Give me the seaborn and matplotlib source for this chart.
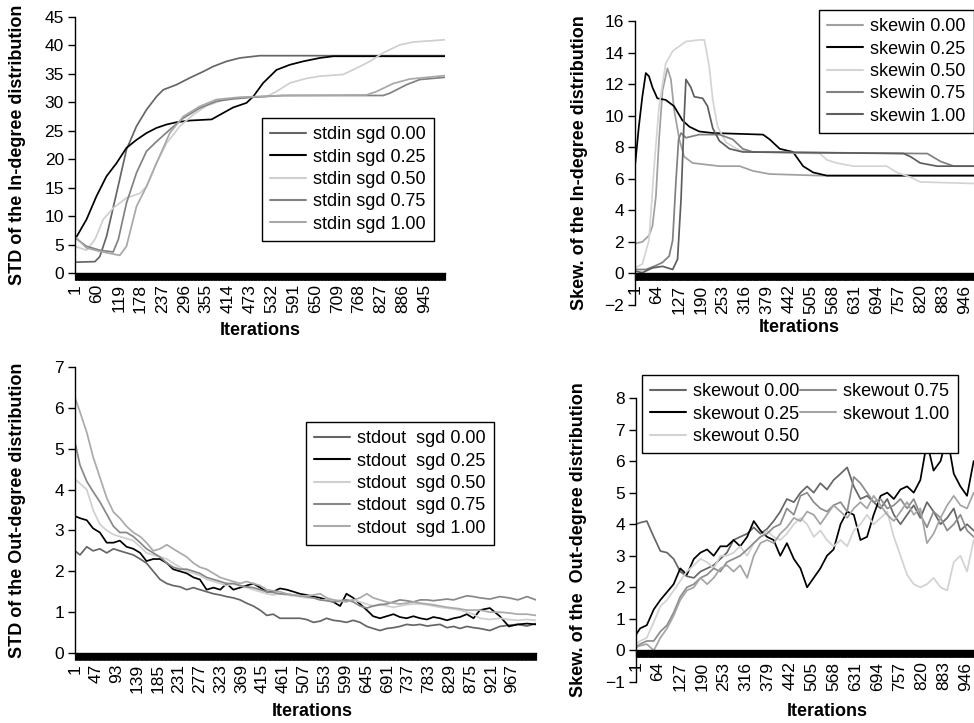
import numpy as np
import pandas as pd
import seaborn as sns
import matplotlib
matplotlib.use('Agg')
import matplotlib.pyplot as plt

sns.set_style('white')
plt.rcParams['font.family'] = ['Liberation Sans', 'DejaVu Sans']
plt.rcParams.update({'text.color': 'black', 'axes.labelcolor': 'black',
                     'xtick.color': 'black', 'ytick.color': 'black'})

# ---- data (iteration, value) ----

# top left: STD of the in-degree distribution
in00_x = [1, 55, 68, 86, 113, 140, 167, 194, 221, 239, 275, 311, 347, 374, 410, 446, 500, 1000]
in00_y = [1.9, 2.0, 2.9, 6.4, 14.0, 21.7, 25.8, 28.7, 31.0, 32.2, 33.1, 34.3, 35.4, 36.3, 37.2, 37.8, 38.2, 38.2]
in25_x = [1, 32, 59, 86, 113, 140, 167, 194, 221, 248, 275, 311, 370, 392, 428, 464, 482, 509, 545, 581, 617, 662, 699, 1000]
in25_y = [5.9, 9.4, 13.5, 17.0, 19.3, 22.0, 23.4, 24.6, 25.5, 26.1, 26.5, 26.8, 27.0, 27.8, 29.1, 29.9, 31.0, 33.4, 35.7, 36.6, 37.2, 37.8, 38.1, 38.1]
in50_x = [1, 32, 55, 77, 104, 140, 176, 194, 221, 248, 284, 320, 356, 410, 464, 518, 545, 581, 626, 662, 725, 761, 797, 833, 878, 914, 1000]
in50_y = [4.7, 4.0, 5.9, 9.4, 11.4, 13.2, 14.0, 15.2, 19.3, 22.8, 25.8, 27.8, 29.4, 30.6, 30.9, 31.0, 31.9, 33.4, 34.2, 34.6, 34.9, 36.0, 37.2, 38.7, 40.1, 40.6, 41.0]
in75_x = [1, 32, 68, 104, 118, 140, 167, 194, 221, 257, 293, 338, 383, 428, 482, 563, 833, 851, 896, 932, 1000]
in75_y = [6.2, 4.7, 4.0, 3.7, 5.9, 12.3, 17.6, 21.4, 23.1, 25.2, 27.2, 29.0, 30.2, 30.6, 30.9, 31.2, 31.2, 31.6, 33.1, 34.0, 34.4]
in100_x = [1, 32, 68, 122, 140, 167, 194, 221, 257, 293, 338, 383, 446, 563, 788, 815, 860, 905, 1000]
in100_y = [6.4, 4.4, 3.8, 3.1, 4.7, 11.7, 15.2, 19.3, 24.6, 27.5, 29.3, 30.5, 30.9, 31.2, 31.3, 31.9, 33.3, 34.1, 34.7]

# top right: skew of the in-degree distribution
sk00_x = [1, 22, 41, 51, 61, 70, 80, 94, 104, 113, 128, 142, 166, 243, 301, 339, 387, 531, 973]
sk00_y = [1.9, 2.0, 2.4, 3.0, 4.9, 8.5, 11.6, 13.0, 12.3, 10.4, 8.5, 7.4, 7.0, 6.8, 6.8, 6.5, 6.3, 6.2, 6.2]
sk25_x = [1, 12, 22, 32, 41, 51, 65, 89, 113, 137, 157, 185, 224, 368, 387, 416, 454, 483, 512, 551, 973]
sk25_y = [6.8, 9.3, 11.2, 12.7, 12.5, 11.8, 11.1, 11.0, 10.6, 9.7, 9.3, 9.0, 8.9, 8.8, 8.5, 7.9, 7.7, 6.8, 6.4, 6.2, 6.2]
sk50_x = [1, 22, 41, 56, 70, 89, 109, 147, 185, 200, 214, 224, 238, 262, 301, 339, 531, 551, 579, 627, 723, 752, 791, 819, 973]
sk50_y = [0.35, 0.6, 2.1, 6.8, 10.6, 13.3, 14.1, 14.7, 14.8, 14.8, 13.1, 11.0, 9.3, 8.3, 7.8, 7.7, 7.6, 7.2, 7.0, 6.8, 6.8, 6.4, 6.1, 5.8, 5.7]
sk75_x = [1, 32, 61, 80, 99, 109, 118, 126, 133, 147, 185, 243, 281, 310, 339, 819, 839, 877, 915, 973]
sk75_y = [0.25, 0.25, 0.5, 0.7, 1.1, 2.1, 5.7, 8.5, 8.9, 8.6, 8.8, 8.8, 8.5, 7.9, 7.7, 7.6, 7.6, 7.1, 6.8, 6.8]
sk100_x = [1, 22, 51, 80, 109, 123, 133, 142, 147, 161, 171, 195, 209, 224, 243, 272, 310, 771, 791, 819, 867, 973]
sk100_y = [0.15, 0.05, 0.35, 0.45, 0.25, 0.9, 4.7, 9.9, 12.3, 11.8, 11.2, 11.1, 10.6, 9.2, 8.4, 7.9, 7.7, 7.6, 7.4, 7.0, 6.8, 6.8]

# bottom left: STD of the out-degree distribution
out_x = [1, 12, 27, 41, 56, 71, 86, 100, 115, 130,
         145, 159, 174, 189, 204, 218, 233, 248, 263, 277,
         292, 307, 322, 336, 351, 366, 380, 395, 410, 425,
         439, 454, 469, 484, 498, 513, 528, 543, 557, 572,
         587, 601, 616, 631, 646, 660, 675, 690, 705, 719,
         734, 749, 764, 779, 793, 808, 823, 838, 852, 867,
         882, 896, 918, 940, 960, 980, 1000, 1020]
out00 = [2.5, 2.4, 2.6, 2.5, 2.55, 2.45, 2.55, 2.5, 2.45, 2.4,
         2.3, 2.2, 2.0, 1.8, 1.7, 1.65, 1.62, 1.55, 1.6, 1.55,
         1.5, 1.45, 1.42, 1.38, 1.35, 1.3, 1.22, 1.15, 1.05, 0.92,
         0.95, 0.85, 0.85, 0.85, 0.85, 0.82, 0.75, 0.78, 0.85, 0.8,
         0.78, 0.75, 0.8, 0.75, 0.65, 0.6, 0.55, 0.6, 0.62, 0.65,
         0.7, 0.68, 0.7, 0.66, 0.68, 0.7, 0.62, 0.65, 0.6, 0.65,
         0.62, 0.6, 0.55, 0.65, 0.68, 0.7, 0.66, 0.72]
out25 = [3.35, 3.3, 3.25, 3.05, 2.95, 2.7, 2.7, 2.75, 2.6, 2.55,
         2.45, 2.25, 2.3, 2.3, 2.2, 2.05, 2.0, 1.95, 1.85, 1.8,
         1.55, 1.6, 1.55, 1.7, 1.55, 1.6, 1.65, 1.7, 1.6, 1.5,
         1.5, 1.58, 1.55, 1.5, 1.45, 1.42, 1.38, 1.35, 1.3, 1.25,
         1.15, 1.45, 1.35, 1.2, 1.05, 0.9, 0.85, 0.9, 0.95, 0.88,
         0.85, 0.9, 0.85, 0.82, 0.88, 0.85, 0.8, 0.85, 0.88, 0.95,
         0.85, 1.05, 1.1, 0.9, 0.65, 0.7, 0.72, 0.7]
out50 = [4.25, 4.15, 4.0, 3.5, 3.15, 3.0, 2.9, 2.85, 2.8, 2.75,
         2.6, 2.45, 2.4, 2.35, 2.3, 2.2, 2.1, 2.0, 1.95, 1.9,
         1.8, 1.75, 1.7, 1.65, 1.7, 1.65, 1.6, 1.55, 1.5, 1.45,
         1.42, 1.45, 1.42, 1.4, 1.38, 1.35, 1.35, 1.3, 1.3, 1.28,
         1.25, 1.3, 1.3, 1.25, 1.2, 1.15, 1.2, 1.15, 1.12, 1.15,
         1.18, 1.2, 1.2, 1.18, 1.15, 1.12, 1.1, 1.08, 1.05, 1.0,
         0.95, 0.85, 0.82, 0.85, 0.82, 0.8, 0.82, 0.8]
out75 = [5.15, 4.6, 4.2, 3.95, 3.7, 3.4, 3.1, 2.95, 2.95, 2.85,
         2.7, 2.55, 2.45, 2.35, 2.2, 2.1, 2.05, 2.05, 2.0, 1.95,
         1.85, 1.8, 1.75, 1.7, 1.7, 1.65, 1.62, 1.6, 1.55, 1.5,
         1.48, 1.45, 1.44, 1.42, 1.4, 1.38, 1.35, 1.3, 1.28, 1.25,
         1.28, 1.3, 1.25, 1.15, 1.1, 1.15, 1.18, 1.2, 1.25, 1.3,
         1.28, 1.25, 1.3, 1.3, 1.28, 1.3, 1.32, 1.3, 1.35, 1.4,
         1.38, 1.35, 1.32, 1.38, 1.35, 1.3, 1.38, 1.3]
out100 = [6.25, 5.9, 5.4, 4.8, 4.3, 3.8, 3.45, 3.3, 3.1, 2.95,
          2.85, 2.7, 2.5, 2.55, 2.65, 2.55, 2.45, 2.35, 2.2, 2.1,
          2.05, 1.95, 1.85, 1.8, 1.75, 1.7, 1.75, 1.7, 1.65, 1.55,
          1.52, 1.5, 1.45, 1.42, 1.4, 1.4, 1.42, 1.45, 1.35, 1.3,
          1.28, 1.25, 1.3, 1.35, 1.45, 1.35, 1.3, 1.25, 1.22, 1.2,
          1.22, 1.25, 1.22, 1.2, 1.18, 1.15, 1.12, 1.1, 1.08, 1.05,
          1.05, 1.05, 1.0, 1.0, 0.98, 0.95, 0.95, 0.92]

# bottom right: skew of the out-degree distribution
skout_x = [1, 13, 32, 52, 71, 90, 109, 128, 147, 167,
           186, 205, 224, 243, 262, 281, 300, 320, 339, 358,
           377, 396, 415, 434, 454, 473, 492, 511, 530, 549,
           568, 588, 607, 626, 645, 664, 683, 703, 722, 741,
           760, 779, 798, 817, 836, 855, 875, 894, 913, 932,
           951, 970]
skout00 = [4.0, 4.05, 4.1, 3.6, 3.15, 3.1, 2.9, 2.5, 2.35, 2.3,
           2.5, 2.6, 2.7, 2.9, 3.1, 3.5, 3.6, 3.7, 3.9, 3.7,
           3.85, 4.1, 4.4, 4.8, 4.7, 5.0, 5.2, 5.0, 5.3, 5.1,
           5.4, 5.6, 5.8, 5.2, 4.8, 4.9, 4.7, 4.5, 4.8, 4.3,
           4.0, 4.3, 4.6, 4.2, 4.7, 4.4, 4.0, 4.2, 4.5, 3.8,
           4.0, 3.8]
skout25 = [0.5, 0.7, 0.8, 1.3, 1.6, 1.85, 2.1, 2.6, 2.4, 2.9,
           3.1, 3.2, 3.0, 3.3, 3.3, 3.5, 3.3, 3.6, 4.1, 3.8,
           3.6, 3.5, 3.0, 3.4, 2.9, 2.6, 2.0, 2.3, 2.6, 3.0,
           3.2, 4.0, 4.4, 4.3, 3.5, 3.6, 4.3, 4.9, 5.0, 4.8,
           5.1, 5.2, 5.0, 5.4, 6.6, 5.7, 6.0, 6.8, 5.6, 5.2,
           4.9, 6.0]
skout50 = [0.2, 0.3, 0.4, 0.9, 1.4, 1.6, 1.9, 2.2, 2.5, 2.7,
           2.9, 2.8, 2.6, 3.0, 3.0, 3.1, 3.3, 3.0, 3.4, 3.6,
           3.8, 3.6, 3.5, 3.7, 4.0, 4.2, 4.0, 3.6, 3.8, 3.5,
           3.3, 3.5, 3.3, 3.8, 4.0, 4.3, 4.0, 4.2, 4.4, 3.6,
           3.0, 2.4, 2.1, 2.0, 2.1, 2.3, 2.0, 1.9, 2.8, 3.0,
           2.5, 3.5]
skout75 = [0.1, 0.2, 0.3, 0.3, 0.6, 0.8, 1.2, 1.7, 2.0, 2.1,
           2.3, 2.4, 2.6, 2.5, 2.8, 2.9, 3.0, 3.2, 3.4, 3.6,
           3.7, 3.9, 4.0, 4.5, 4.3, 4.9, 5.0, 4.7, 4.5, 4.4,
           4.6, 4.7, 4.4, 5.5, 5.3, 5.0, 4.7, 4.8, 4.5, 4.6,
           4.8, 4.5, 4.8, 4.3, 3.9, 4.4, 4.2, 3.8, 4.0, 4.3,
           3.8, 3.6]
skout100 = [0.1, 0.15, 0.2, 0.0, 0.4, 0.7, 1.1, 1.6, 1.9, 2.0,
            2.3, 2.1, 2.3, 2.6, 2.7, 2.5, 2.7, 2.3, 3.0, 3.4,
            3.5, 3.4, 3.7, 3.9, 4.2, 4.1, 4.4, 4.3, 4.0, 4.3,
            4.6, 4.4, 4.2, 4.5, 4.7, 4.5, 4.9, 4.6, 4.3, 4.1,
            4.4, 4.7, 4.3, 4.5, 3.4, 3.7, 4.2, 4.6, 4.9, 4.6,
            4.5, 5.0]

sgd = ['0.00', '0.25', '0.50', '0.75', '1.00']

# ---- layout helpers ----
W, H = 974, 723
fig = plt.figure(figsize=(W / 100, H / 100), dpi=100)


def rect(l, t, r, b):
    return [l / W, 1 - b / H, (r - l) / W, (b - t) / H]


def panel(box, series, labels, colors, xlim, xstep, ylim, ystep,
          ylabel, ylab_x, xlab_pos, leg_xy, ncol=1, cross0=False):
    ax = fig.add_axes(rect(*box))
    df = pd.concat([pd.DataFrame({'Iteration': xs, 'Value': ys, 'Series': lab})
                    for (xs, ys), lab in zip(series, labels)], ignore_index=True)
    sns.lineplot(data=df, x='Iteration', y='Value', hue='Series', hue_order=labels,
                 palette=dict(zip(labels, colors)), estimator=None, sort=False,
                 linewidth=1.25, ax=ax)
    ax.set_xlim(*xlim)
    ax.set_ylim(*ylim)
    ax.set_xticks(np.arange(1, 1000, xstep))
    ax.set_xticks(np.arange(1, xlim[1] + 1), minor=True)
    ax.set_yticks(np.arange(ylim[0], ylim[1] + 0.1, ystep))
    ax.tick_params(axis='x', which='both', bottom=True, direction='out', length=5,
                   width=0.8, color='black', labelrotation=90, labelsize=12.5, pad=3)
    ax.tick_params(axis='y', which='major', left=True, direction='out', length=5,
                   width=1, color='black', labelsize=12.5, pad=3)
    for s in ['top', 'right']:
        ax.spines[s].set_visible(False)
    for s in ['left', 'bottom']:
        ax.spines[s].set_color('black')
        ax.spines[s].set_linewidth(1)
    if cross0:
        ax.spines['bottom'].set_position(('data', 0))
    ax.set_xlabel('Iterations', fontsize=13, fontweight='bold')
    ax.set_ylabel(ylabel, fontsize=13, fontweight='bold')
    ax.xaxis.set_label_coords(*xlab_pos)
    ax.yaxis.set_label_coords(ylab_x, 0.5)
    ax.grid(False)

    old = ax.get_legend()
    handles = old.legend_handles
    labs = [t.get_text() for t in old.get_texts()]
    for h in handles:
        h.set_linewidth(1.5)
    leg = ax.legend(handles, labs, loc='upper left',
                    bbox_to_anchor=(leg_xy[0] / W, 1 - leg_xy[1] / H),
                    bbox_transform=fig.transFigure, ncol=ncol, fontsize=13,
                    frameon=True, fancybox=False, edgecolor='black', framealpha=1,
                    borderpad=0.45, labelspacing=0.3, handlelength=2.0,
                    handletextpad=0.4, columnspacing=0.0, borderaxespad=0)
    leg.get_frame().set_linewidth(1)
    return ax


panel((75, 17, 445, 273),
      [(in00_x, in00_y), (in25_x, in25_y), (in50_x, in50_y), (in75_x, in75_y), (in100_x, in100_y)],
      ['stdin sgd ' + s for s in sgd],
      ['#666666', '#000000', '#cfcfcf', '#828282', '#a8a8a8'],
      (1, 1000), 59, (0, 45), 5,
      'STD of the In-degree distribution', -0.132, (0.5, -0.19), (262, 118))

panel((635, 21, 974, 305),
      [(sk00_x, sk00_y), (sk25_x, sk25_y), (sk50_x, sk50_y), (sk75_x, sk75_y), (sk100_x, sk100_y)],
      ['skewin ' + s for s in sgd],
      ['#a0a0a0', '#000000', '#d4d4d4', '#808080', '#5e5e5e'],
      (1, 973), 63, (-2, 16), 2,
      'Skew. of the In-degree distribution', -0.139, (0.484, -0.05), (819, 10), cross0=True)

panel((75, 367, 536, 653),
      [(out_x, out00), (out_x, out25), (out_x, out50), (out_x, out75), (out_x, out100)],
      ['stdout  sgd ' + s for s in sgd],
      ['#666666', '#000000', '#cfcfcf', '#888888', '#aaaaaa'],
      (1, 1020), 46, (0, 7), 1,
      'STD of the Out-degree distribution', -0.106, (0.514, -0.175), (306, 422))

panel((636, 398, 974, 682),
      [(skout_x, skout00), (skout_x, skout25), (skout_x, skout50), (skout_x, skout75), (skout_x, skout100)],
      ['skewout ' + s for s in sgd],
      ['#666666', '#000000', '#d2d2d2', '#8c8c8c', '#a4a4a4'],
      (1, 971), 63, (-1, 8), 1,
      'Skew. of the  Out-degree distribution', -0.145, (0.565, -0.074), (642, 375),
      ncol=2, cross0=True)

fig.savefig('out.png', dpi=100, facecolor='white')
